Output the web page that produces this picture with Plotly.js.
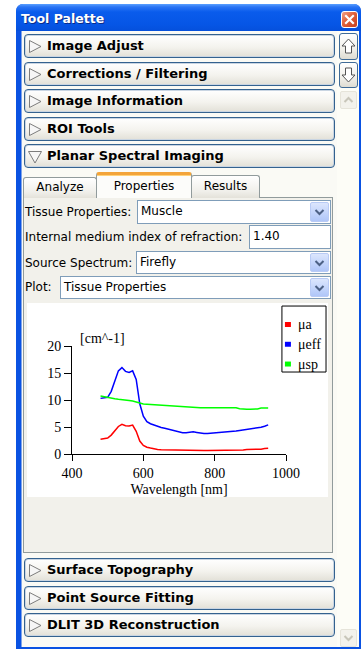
<!DOCTYPE html>
<html><head><meta charset="utf-8">
<script src="https://cdn.plot.ly/plotly-3.0.1.min.js"></script>
<style>
html,body{margin:0;padding:0;background:#fff;width:364px;height:650px;overflow:hidden;font-family:"DejaVu Sans",sans-serif;}
.abs{position:absolute;box-sizing:border-box;}
.frame{left:16px;top:4px;width:345px;height:645px;background:#0A52E2;border-radius:7px 7px 0 0;}
.titlebar{left:16px;top:4px;width:345px;height:27px;border-radius:7px 7px 0 0;background:linear-gradient(#5AA0FF 0px,#2A74F4 3px,#0A5CEC 8px,#0656E6 20px,#0550DC 27px);}
.title{left:21px;top:11px;color:#fff;font-weight:bold;font-size:12.5px;line-height:16px;text-shadow:1px 1px 0 #0A2C8A;}
.close{left:341px;top:11px;width:17px;height:17px;border:1px solid #fff;border-radius:3px;background:linear-gradient(135deg,#F0A088,#E0603A 45%,#C6401E);}
.client{left:21px;top:31px;width:338px;height:616px;background:#FAFAF5;border-left:1px solid #7FA4E8;}
.scrollcol{left:337px;top:31px;width:22px;height:616px;background:#FDFDF7;}
.hdr{left:24px;width:311px;height:24px;border:1px solid #34628F;border-radius:4px;background:linear-gradient(#FFFFFF,#F4F3EE 55%,#E2E0D7);box-shadow:inset 0 0 0 1px #C9D5E2;font-weight:bold;font-size:13px;line-height:22px;padding-left:22px;color:#000;white-space:nowrap;}
.hdr svg{position:absolute;left:3px;top:5px;}
.sbtn{left:339px;width:19px;border:1px solid #3F6B97;border-radius:3px;background:linear-gradient(#FFFFFF,#F1F0EA 60%,#DEDCD2);}
.sdis{left:340px;width:17px;height:18px;border:1px solid #E6E4DA;border-radius:2px;background:#F3F2EC;}
.tab{border:1px solid #919B9C;border-bottom:none;border-radius:3px 3px 0 0;font-size:12px;text-align:center;color:#000;}
.panel{left:23px;top:197px;width:310px;height:356px;border:1px solid #919B9C;background:#F2F1EB;}
.lbl{font-size:12px;line-height:14px;color:#000;white-space:nowrap;}
.combo{background:#fff;border:1px solid #7F9DB9;font-size:12px;line-height:20px;padding-left:3px;color:#000;}
.dd{position:absolute;right:1px;top:1px;width:17px;bottom:1px;border:1px solid #B9CBF5;border-radius:2px;background:linear-gradient(#DCE6FD,#C1D3FB 60%,#B0C6F8);}
.dd svg{position:absolute;left:3px;top:5px;}
</style></head><body>

<div class="abs frame"></div>
<div class="abs titlebar"></div>
<div class="abs title">Tool Palette</div>
<div class="abs close"><svg width="15" height="15" style="position:absolute;left:0;top:0"><path d="M4 4 L11 11 M11 4 L4 11" stroke="#fff" stroke-width="2.2" stroke-linecap="square"/></svg></div>
<div class="abs client"></div>
<div class="abs scrollcol"></div>

<div class="abs hdr" style="top:34px"><svg width="15" height="14"><polygon points="1.5,0.5 13,6.5 1.5,12.5" fill="#F6F6F6" stroke="#7C7C7C"/></svg>Image Adjust</div>
<div class="abs hdr" style="top:62px"><svg width="15" height="14"><polygon points="1.5,0.5 13,6.5 1.5,12.5" fill="#F6F6F6" stroke="#7C7C7C"/></svg>Corrections / Filtering</div>
<div class="abs hdr" style="top:89px"><svg width="15" height="14"><polygon points="1.5,0.5 13,6.5 1.5,12.5" fill="#F6F6F6" stroke="#7C7C7C"/></svg>Image Information</div>
<div class="abs hdr" style="top:117px"><svg width="15" height="14"><polygon points="1.5,0.5 13,6.5 1.5,12.5" fill="#F6F6F6" stroke="#7C7C7C"/></svg>ROI Tools</div>
<div class="abs hdr" style="top:144px"><svg width="15" height="14"><polygon points="0.5,1.5 13.5,1.5 7,13" fill="#F6F6F6" stroke="#7C7C7C"/></svg>Planar Spectral Imaging</div>

<div class="abs sbtn" style="top:33px;height:27px"><svg width="17" height="25" style="position:absolute;left:0;top:0"><polygon points="8.5,5 15,12 11.5,12 11.5,19 5.5,19 5.5,12 2,12" fill="#fff" stroke="#555"/></svg></div>
<div class="abs sbtn" style="top:62px;height:26px"><svg width="17" height="24" style="position:absolute;left:0;top:0"><polygon points="8.5,19 15,12 11.5,12 11.5,5 5.5,5 5.5,12 2,12" fill="#fff" stroke="#555"/></svg></div>
<div class="abs sdis" style="top:91px"><svg width="15" height="16" style="position:absolute;left:0;top:0"><polyline points="3.5,10 7.5,6 11.5,10" fill="none" stroke="#C8C6BA" stroke-width="2"/></svg></div>
<div class="abs sdis" style="top:629px"><svg width="15" height="16" style="position:absolute;left:0;top:0"><polyline points="3.5,6 7.5,10 11.5,6" fill="none" stroke="#C8C6BA" stroke-width="2"/></svg></div>

<div class="abs panel"></div>
<div class="abs tab" style="left:23px;top:177px;width:74px;height:21px;line-height:18px;background:linear-gradient(#FFFFFF,#F0EFEA 70%,#E4E2DA);">Analyze</div>
<div class="abs tab" style="left:191px;top:175px;width:69px;height:23px;line-height:20px;background:linear-gradient(#FFFFFF,#F0EFEA 70%,#E4E2DA);">Results</div>
<div class="abs tab" style="left:96px;top:172px;width:96px;height:26px;line-height:22px;background:#FCFCFA;border-top:3px solid #F3A43A;box-shadow:inset 0 1px 0 #FFD27A;">Properties</div>

<div class="abs lbl" style="left:25px;top:205px">Tissue Properties:</div>
<div class="abs combo" style="left:137px;top:200px;width:194px;height:24px">Muscle<div class="dd"><svg width="11" height="10"><polyline points="1.5,2 5.5,6 9.5,2" fill="none" stroke="#4D6185" stroke-width="2"/></svg></div></div>

<div class="abs lbl" style="left:25px;top:230px">Internal medium index of refraction:</div>
<div class="abs combo" style="left:249px;top:225px;width:82px;height:24px">1.40</div>

<div class="abs lbl" style="left:25px;top:256px">Source Spectrum:</div>
<div class="abs combo" style="left:136px;top:251px;width:195px;height:23px">Firefly<div class="dd"><svg width="11" height="10"><polyline points="1.5,2 5.5,6 9.5,2" fill="none" stroke="#4D6185" stroke-width="2"/></svg></div></div>

<div class="abs lbl" style="left:25px;top:280px">Plot:</div>
<div class="abs combo" style="left:60px;top:276px;width:271px;height:23px">Tissue Properties<div class="dd"><svg width="11" height="10"><polyline points="1.5,2 5.5,6 9.5,2" fill="none" stroke="#4D6185" stroke-width="2"/></svg></div></div>

<div id="chart" class="abs" style="left:27px;top:303px;width:301px;height:194px;background:#fff"></div>

<div class="abs hdr" style="top:558px"><svg width="15" height="14"><polygon points="1.5,0.5 13,6.5 1.5,12.5" fill="#F6F6F6" stroke="#7C7C7C"/></svg>Surface Topography</div>
<div class="abs hdr" style="top:586px"><svg width="15" height="14"><polygon points="1.5,0.5 13,6.5 1.5,12.5" fill="#F6F6F6" stroke="#7C7C7C"/></svg>Point Source Fitting</div>
<div class="abs hdr" style="top:613px"><svg width="15" height="14"><polygon points="1.5,0.5 13,6.5 1.5,12.5" fill="#F6F6F6" stroke="#7C7C7C"/></svg>DLIT 3D Reconstruction</div>

<script>
// ---- data ----
const wavelengths = [480,490,500,510,520,530,540,550,560,570,580,590,600,610,620,630,640,650,660,670,680,690,700,710,720,730,740,750,760,770,780,790,800,810,820,830,840,850,860,870,880,890,900,910,920,930,940,950];
const muA   = [2.75,2.8,2.95,3.5,4.3,5.1,5.5,5.25,5.2,5.35,4.2,2.4,1.6,1.25,1.1,0.95,0.85,0.8,0.78,0.75,0.72,0.7,0.7,0.7,0.7,0.7,0.7,0.68,0.66,0.66,0.66,0.66,0.66,0.66,0.66,0.66,0.66,0.66,0.66,0.7,0.75,0.85,0.85,0.85,0.85,0.88,1.0,1.05];
const muEff = [10.3,10.35,10.5,11.6,13.6,15.4,16.0,15.3,15.1,15.4,13.8,9.3,7.0,6.0,5.6,5.35,5.1,4.9,4.75,4.6,4.45,4.3,4.1,3.95,3.95,4.05,4.1,4.0,3.85,3.8,3.8,3.85,3.85,3.9,3.95,4.1,4.1,4.2,4.25,4.35,4.45,4.55,4.65,4.7,4.75,4.95,5.15,5.4];
const muSp  = [10.75,10.6,10.45,10.35,10.25,10.15,10.1,10.0,9.9,9.8,9.6,9.35,9.25,9.2,9.15,9.1,9.1,9.05,9.0,8.95,8.9,8.9,8.85,8.8,8.75,8.7,8.65,8.6,8.55,8.55,8.55,8.55,8.55,8.55,8.55,8.55,8.55,8.55,8.55,8.4,8.3,8.3,8.3,8.3,8.35,8.5,8.5,8.5];
const seriesNames  = ['μa','μeff','μsp'];
const seriesColors = ['#ff0000','#0000ff','#00ff00'];
const xTickVals = [400,600,800,1000];
const yTickVals = [0,5,10,15,20];
const xTitle = 'Wavelength [nm]';
const yUnit  = '[cm^-1]';

const series = [muA, muEff, muSp];
const serif = {family:'"Liberation Serif","Times New Roman",serif', size:14, color:'#000'};

const traces = series.map((vals,i)=>({
  type:'scatter', mode:'lines', x:wavelengths, y:vals, name:seriesNames[i],
  line:{color:seriesColors[i], width:1.5}, showlegend:false, hoverinfo:'skip'
}));

const shapes = [{type:'rect', xref:'paper', yref:'paper', x0:0.981, x1:1.187, y0:0.759, y1:1.370,
  line:{color:'#000', width:1}, fillcolor:'rgba(0,0,0,0)'}];
const annotations = [{xref:'paper', yref:'paper', x:0.028, y:1.065, xanchor:'left', yanchor:'middle',
  text:yUnit, showarrow:false, font:serif}];
seriesNames.forEach((n,i)=>{
  const yc = 1.199 - i*0.183;
  shapes.push({type:'rect', xref:'paper', yref:'paper', x0:0.995, x1:1.023, y0:yc-0.023, y1:yc+0.023,
    line:{width:0}, fillcolor:seriesColors[i]});
  annotations.push({xref:'paper', yref:'paper', x:1.047, y:yc, xanchor:'left', yanchor:'middle',
    text:n, showarrow:false, font:serif});
});

const layout = {
  width:301, height:194, margin:{l:45, r:42, t:43, b:43},
  paper_bgcolor:'#fff', plot_bgcolor:'#fff', showlegend:false,
  font:serif,
  xaxis:{range:[400,1000], tickvals:xTickVals, ticktext:xTickVals.map(String), showline:true, linecolor:'#000', linewidth:1,
    ticks:'outside', ticklen:6, tickcolor:'#000', tickwidth:1, showgrid:false, zeroline:false, tickfont:serif,
    title:{text:xTitle, font:serif, standoff:6}, automargin:false},
  yaxis:{range:[0,20], tickvals:yTickVals, ticktext:yTickVals.map(String), showline:true, linecolor:'#000', linewidth:1,
    ticks:'outside', ticklen:7, tickcolor:'#000', tickwidth:1, showgrid:false, zeroline:false, tickfont:serif, automargin:false},
  shapes:shapes, annotations:annotations
};
Plotly.newPlot('chart', traces, layout, {displayModeBar:false, staticPlot:true});
</script>
</body></html>
